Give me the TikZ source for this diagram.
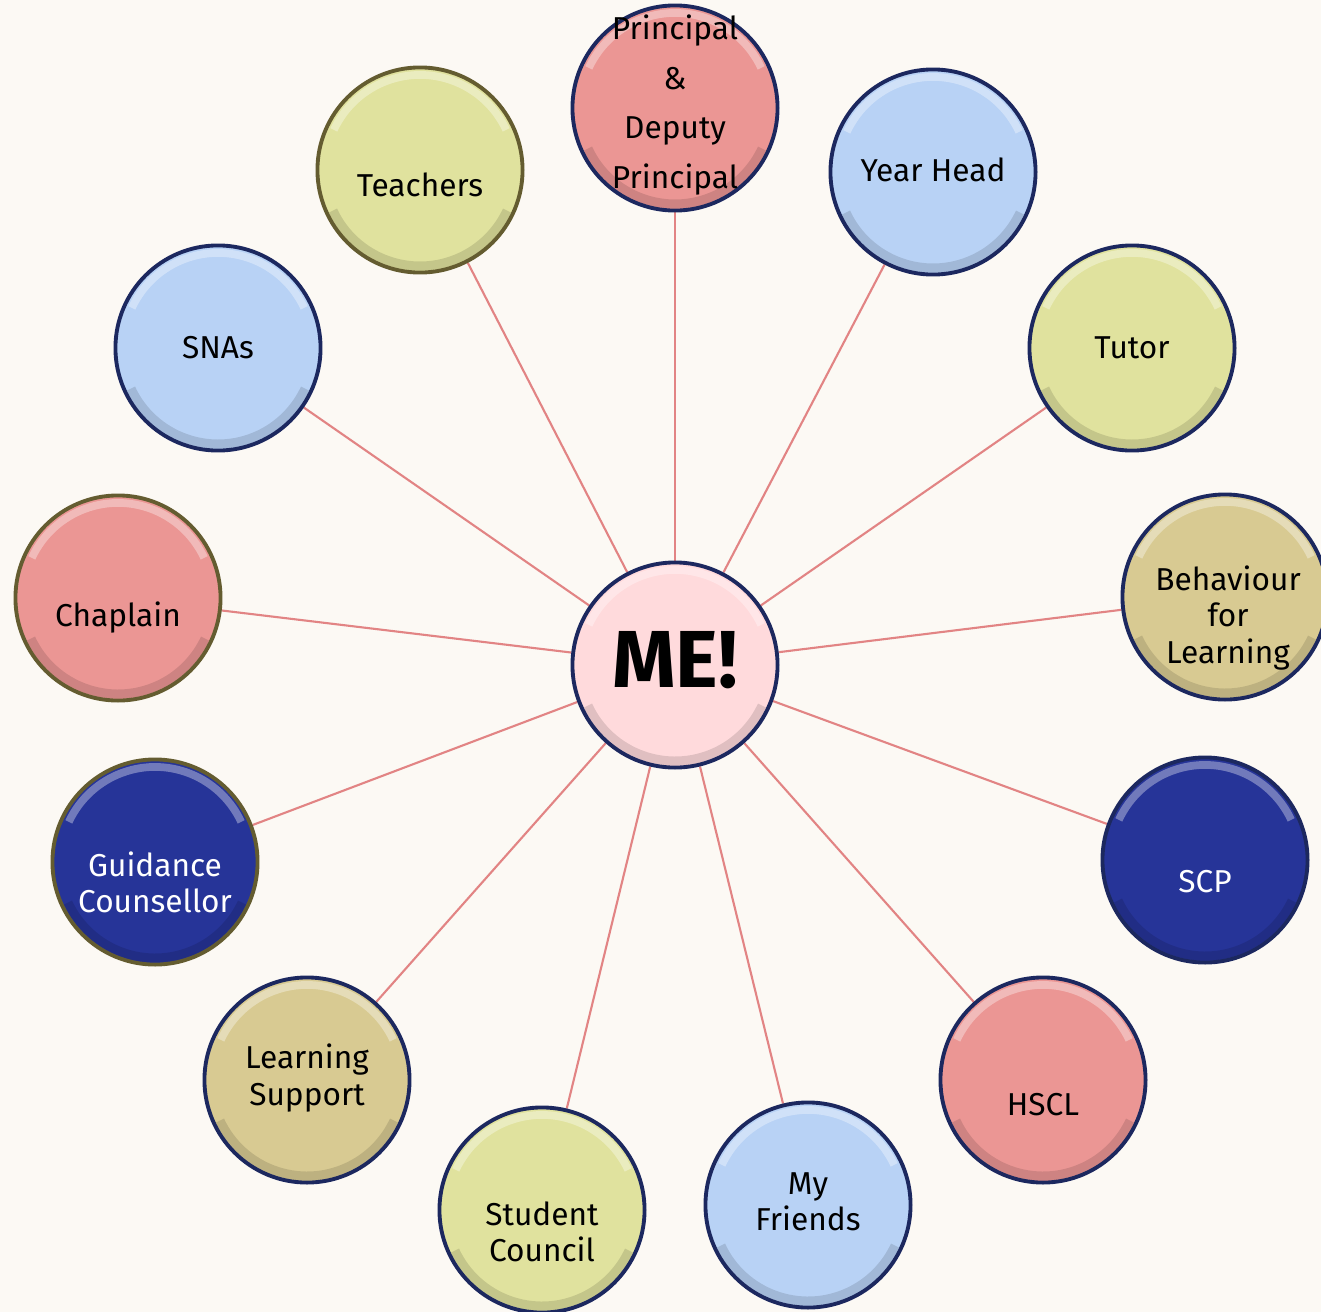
\documentclass[tikz,border=0pt]{standalone}
\usepackage{fontspec}
\setmainfont{Fira Sans}
\usetikzlibrary{backgrounds}
\definecolor{paper}{RGB}{252, 249, 244}
\definecolor{blush}{RGB}{255, 218, 220}
\definecolor{rosered}{RGB}{235, 150, 148}
\definecolor{skyblue}{RGB}{184, 210, 245}
\definecolor{lime}{RGB}{224, 226, 158}
\definecolor{sand}{RGB}{216, 202, 146}
\definecolor{navy}{RGB}{38, 52, 152}
\definecolor{spoke}{RGB}{226, 132, 132}
\definecolor{rim}{RGB}{28, 40, 95}
\definecolor{olive}{RGB}{100, 92, 48}

\tikzset{
    person/.style={circle, minimum size=2.05cm, inner sep=0pt, draw=rim, line width=1.1pt, align=center,
        font=\fontsize{9}{10.3}\selectfont,
        path picture={
            \draw[white, opacity=.35, line width=2.2pt] ([shift={(155:0.95cm)}]path picture bounding box.center) arc[start angle=155, end angle=25, radius=0.95cm];
            \draw[black, opacity=.12, line width=2.6pt] ([shift={(205:0.96cm)}]path picture bounding box.center) arc[start angle=205, end angle=335, radius=0.96cm];
        }},
    tag/.style={align=center, inner sep=0pt, font=\fontsize{9}{10.3}\selectfont},
    link/.style={draw=spoke, line width=0.6pt}
}

\begin{document}
\begin{tikzpicture}[x=0.01cm, y=-0.01cm]
            \useasboundingbox                                                   (0, 0) rectangle (1321, 1312);
            \node[person, fill=blush]                                   (me)        at ( 675,  665) {};
            \node[person, fill=rosered]                                 (principal) at ( 675,  108) {};
            \node[person, fill=skyblue]                                 (yearhead)  at ( 933,  172) {};
            \node[person, fill=lime]                                    (tutor)     at (1132,  348) {};
            \node[person, fill=sand]                                    (behaviour) at (1225,  597) {};
            \node[person, fill=navy]                                    (scp)       at (1205,  860) {};
            \node[person, fill=rosered]                                 (hscl)      at (1043, 1080) {};
            \node[person, fill=skyblue]                                 (friends)   at ( 808, 1205) {};
            \node[person, fill=lime]                                    (council)   at ( 542, 1210) {};
            \node[person, fill=sand]                                    (support)   at ( 307, 1080) {};
            \node[person, fill=navy, draw=olive]                        (guidance)  at ( 155,  862) {};
            \node[person, fill=rosered, draw=olive]                     (chaplain)  at ( 118,  598) {};
            \node[person, fill=skyblue]                                 (snas)      at ( 218,  348) {};
            \node[person, fill=lime, draw=olive]                        (teachers)  at ( 420,  170) {};

            \node[tag, font=\fontsize{23}{25}\selectfont\bfseries]          at ([yshift=0.05cm]me)          {ME!};
            \node[tag, font=\fontsize{9}{14.2}\selectfont]                  at ([yshift=0.03cm]principal)   {Principal\\\&\\Deputy\\Principal};
            \node[tag]                                                      at ([yshift=0.02cm]yearhead)    {Year Head};
            \node[tag]                                                      at (tutor)                      {Tutor};
            \node[tag]                                                      at ([shift={(0.03cm,-0.21cm)}]behaviour) {Behaviour\\for\\Learning};
            \node[tag, text=white]                                          at ([yshift=-0.22cm]scp)        {SCP};
            \node[tag]                                                      at ([yshift=-0.25cm]hscl)       {HSCL};
            \node[tag]                                                      at ([yshift=0.03cm]friends)     {My\\Friends};
            \node[tag]                                                      at ([yshift=-0.22cm]council)    {Student\\Council};
            \node[tag]                                                      at ([yshift=0.02cm]support)     {Learning\\Support};
            \node[tag, text=white]                                          at ([yshift=-0.2cm]guidance)    {Guidance\\Counsellor};
            \node[tag]                                                      at ([yshift=-0.2cm]chaplain)    {Chaplain};
            \node[tag]                                                      at (snas)                       {SNAs};
            \node[tag]                                                      at ([yshift=-0.15cm]teachers)   {Teachers};

            \begin{scope}[on background layer]
                \fill[paper] (0, 0) rectangle (1321, 1312);
                \foreach \who in {principal, yearhead, tutor, behaviour, scp, hscl, friends, council, support, guidance, chaplain, snas, teachers}
                    \draw[link] (me) -- (\who);
            \end{scope}
        \end{tikzpicture}
\end{document}
